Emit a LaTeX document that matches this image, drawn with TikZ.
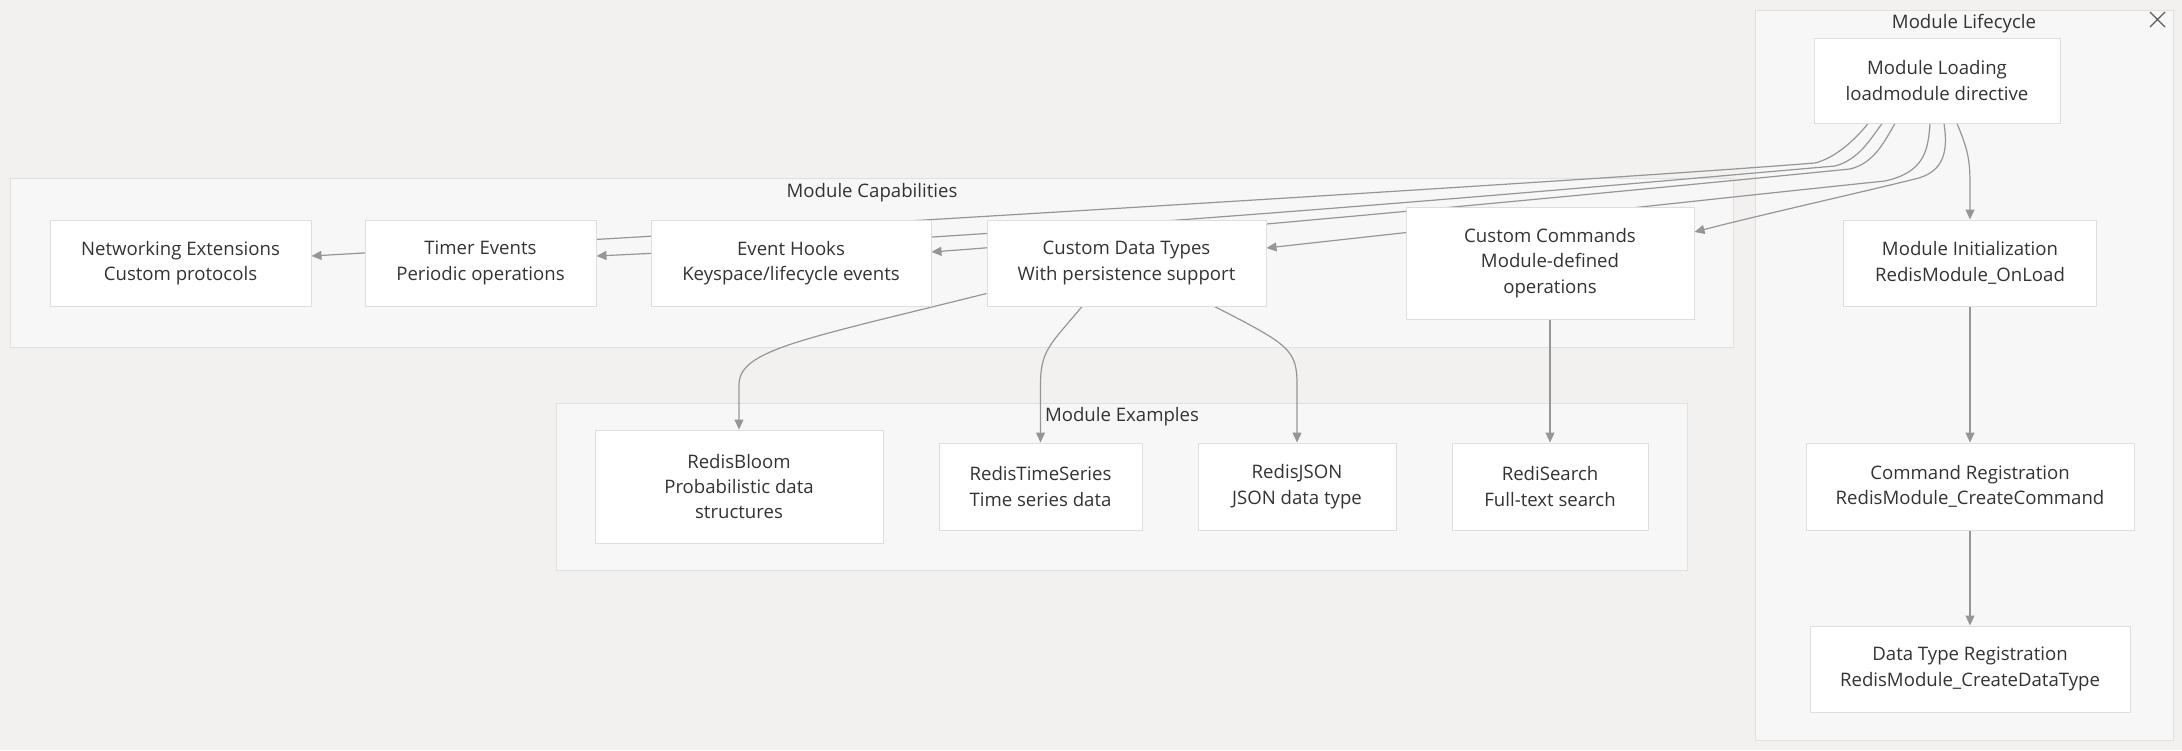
\documentclass[tikz,border=0pt]{standalone}
\usepackage{fontspec}
\setmainfont{Open Sans}
\usepackage{tikz}
\usetikzlibrary{arrows.meta}
\usetikzlibrary{positioning}
\definecolor{bgcol}{RGB}{242,241,240}
\definecolor{clusfill}{RGB}{247,247,247}
\definecolor{clusline}{RGB}{224,224,224}
\definecolor{boxline}{RGB}{222,222,222}
\definecolor{edgecol}{RGB}{150,150,150}
\definecolor{txt}{RGB}{51,51,51}
\pgfdeclarelayer{bg}
\pgfdeclarelayer{edgelayer}
\pgfsetlayers{bg,edgelayer,main}
\tikzset{
    box/.style={draw=boxline, fill=white, line width=0.5pt, align=center, inner sep=0pt,
        text=txt, font=\fontsize{9.3}{12.7}\selectfont},
    cluster/.style={draw=clusline, fill=clusfill, line width=0.5pt},
    ctitle/.style={text=txt, inner sep=0pt, font=\fontsize{9.3}{12.7}\selectfont},
    flow/.style={draw=edgecol, line width=0.6pt, -{Triangle[length=5pt,width=4.5pt]}},
    xmark/.style={draw=txt!80, line width=0.6pt},
}

\begin{document}
\begin{tikzpicture}[x=0.5pt, y=-0.5pt]
\begin{pgfonlayer}{bg}
	\path[use as bounding box, fill=bgcol] (0,0) rectangle (2182,750);
	\draw[cluster] (1755,10) rectangle (2173,740);
	\draw[cluster] (10,178) rectangle (1733,347);
	\draw[cluster] (556,403) rectangle (1687,570);
\end{pgfonlayer}
	\node[ctitle] (tlife) at (1964,24) {Module Lifecycle};
	\node[ctitle] (tcap) at (872,193) {Module Capabilities};
	\node[ctitle] (tex) at (1122,417) {Module Examples};
	\draw[xmark] (2150,12) -- (2165,27) (2150,27) -- (2165,12);
	% lifecycle
	\node[box, minimum width=123pt, minimum height=42.5pt] (load) at (1937,80.5) {Module Loading\\loadmodule directive};
	\node[box, minimum width=126.5pt, minimum height=43pt] (init) at (1970,263) {Module Initialization\\RedisModule\_OnLoad};
	\node[box, minimum width=164pt, minimum height=43.5pt] (cmdreg) at (1970,486.5) {Command Registration\\RedisModule\_CreateCommand};
	\node[box, minimum width=160pt, minimum height=43pt] (dtreg) at (1970,669) {Data Type Registration\\RedisModule\_CreateDataType};
	% capabilities
	\node[box, minimum width=130.5pt, minimum height=43pt] (net) at (180.5,263) {Networking Extensions\\Custom protocols};
	\node[box, minimum width=115.5pt, minimum height=43pt] (timer) at (480.5,263) {Timer Events\\Periodic operations};
	\node[box, minimum width=140pt, minimum height=43pt] (hooks) at (791,263) {Event Hooks\\Keyspace/lifecycle events};
	\node[box, minimum width=139.5pt, minimum height=43pt] (dtypes) at (1126.5,263) {Custom Data Types\\With persistence support};
	\node[box, minimum width=144pt, minimum height=56pt] (cmds) at (1550,263) {Custom Commands\\Module-defined\\operations};
	% examples
	\node[box, minimum width=144pt, minimum height=56.5pt] (bloom) at (739,486.5) {RedisBloom\\Probabilistic data\\structures};
	\node[box, minimum width=101.5pt, minimum height=43.5pt] (ts) at (1040.5,486.5) {RedisTimeSeries\\Time series data};
	\node[box, minimum width=99pt, minimum height=43.5pt] (json) at (1297,486.5) {RedisJSON\\JSON data type};
	\node[box, minimum width=98pt, minimum height=43.5pt] (search) at (1550,486.5) {RediSearch\\Full-text search};
\begin{pgfonlayer}{edgelayer}
	\draw[flow] ([xshift=10pt]load.south) .. controls (1968,150) and (1970,160) .. (1970,185) -- (init.north);
	\draw[flow] (init) -- (cmdreg);
	\draw[flow] (cmdreg) -- (dtreg);
	\draw[flow] ([xshift=-34.5pt]load.south) .. controls (1855,140) and (1835,158) .. (1815,163)
		.. controls (1600,180) and (900,222) .. ([yshift=3.5pt]net.east);
	\draw[flow] ([xshift=-27.5pt]load.south) .. controls (1870,140) and (1858,160) .. (1835,166)
		.. controls (1650,182) and (1100,232) .. ([yshift=3.5pt]timer.east);
	\draw[flow] ([xshift=-21pt]load.south) .. controls (1885,140) and (1875,163) .. (1850,169)
		.. controls (1700,184) and (1200,232) .. ([yshift=5.5pt]hooks.east);
	\draw[flow] ([xshift=-3.5pt]load.south) .. controls (1928,150) and (1925,172) .. (1885,181)
		.. controls (1750,195) and (1500,222) .. ([yshift=7.5pt]dtypes.east);
	\draw[flow] ([xshift=3.5pt]load.south) .. controls (1948,150) and (1945,172) .. (1915,179)
		.. controls (1850,195) and (1760,215) .. ([yshift=15.5pt]cmds.east);
	\draw[flow] ([yshift=6.5pt]dtypes.south west) .. controls (800,340) and (739,350) .. (739,385) -- (bloom.north);
	\draw[flow] ([xshift=-22.25pt]dtypes.south) .. controls (1050,345) and (1040.5,350) .. (1040.5,385) -- (ts.north);
	\draw[flow] ([xshift=44pt]dtypes.south) .. controls (1290,345) and (1297,350) .. (1297,385) -- (json.north);
	\draw[flow] (cmds) -- (search);
\end{pgfonlayer}
\end{tikzpicture}
\end{document}
